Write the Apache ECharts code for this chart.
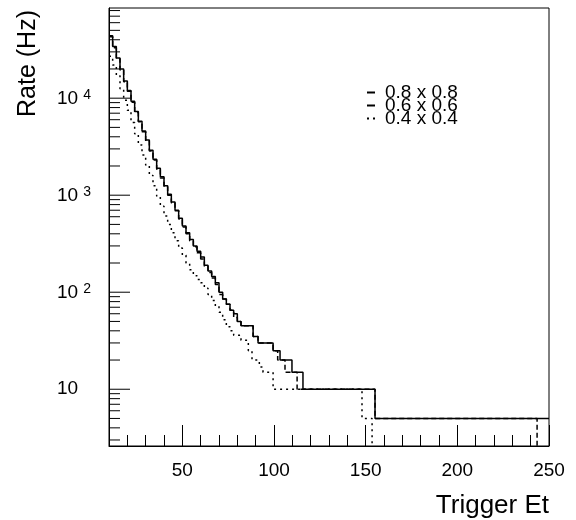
<!DOCTYPE html>
<html>
<head>
<meta charset="utf-8">
<script src="https://cdn.jsdelivr.net/npm/echarts@6/dist/echarts.min.js"></script>
<style>html,body{margin:0;padding:0;background:#fff;}#c{width:576px;height:520px;}</style>
</head>
<body>
<div id="c"></div>
<script>
// ---- data ----
const seriesNames = ['0.8 x 0.8', '0.6 x 0.6', '0.4 x 0.4'];

const edges08 = [10,12,14,16,18,20,22,24,26,28,30,32,34,36,38,40,42,44,46,48,50,52,54,56,58,60,62,64,66,68,70,72,74,76,78,80,82,88.6,91.3,99.5,103.3,109.8,115.8,155.1,250];
const rates08 = [44000,34000,26000,20000,15000,12000,9300,7300,5800,4600,3700,2900,2350,1900,1550,1250,1020,850,700,580,480,410,350,300,265,230,190,165,145,125,100,85,75,65,60,50,45,35,30,25,20,15,10,5];

const edges06 = [10,12,14,16,18,20,22,24,26,28,30,32,34,36,38,40,42,44,46,48,50,52,54,56,58,60,62,64,66,68,70,72,74,76,78,80,82,88.6,91.3,99.5,102,106,112.6,155.1,243.5,250];
const rates06 = [43000,33000,25500,19500,14800,11800,9100,7100,5700,4500,3600,2850,2300,1850,1500,1220,1000,830,690,570,470,400,340,295,255,220,185,160,140,120,95,85,75,65,55,50,45,35,30,25,20,15,10,5,1];

const edges04 = [10,12,14,16,18,20,22,24,26,28,30,32,34,36,38,40,42,44,46,48,50,52,54,56,58,60,62,64,66,68,70,72,74,76,78,82,86,88,92,94,99.5,148,153.5,250];
const rates04 = [27000,22000,17000,12500,9500,7500,5600,4300,3300,2600,2050,1600,1250,980,770,610,500,410,340,285,240,200,170,148,135,125,110,95,82,72,62,52,44,40,36,32,25,20,17,15,10,5,1];

const xTickLabels = [50,100,150,200,250];
const xMajorTicks = [50,100,150,200,250];
const xMinorTicks = [20,30,40,60,70,80,90,110,120,130,140,160,170,180,190,210,220,230,240];
const yMajorTicks = [10,100,1000,10000];
const yMinorTicks = [3,4,5,6,7,8,9,20,30,40,50,60,70,80,90,200,300,400,500,600,700,800,900,2000,3000,4000,5000,6000,7000,8000,9000,20000,30000,40000,50000,60000,70000,80000];

const xMin = 10, xMax = 250, yMin = 2.6, yMax = 85000;

// ---- build ----
const FONT = '"Liberation Sans", Arial, Helvetica, sans-serif';
function histPoints(edges, rates) {
  const pts = rates.map((r, i) => [edges[i], r]);
  pts.push([edges[edges.length - 1], rates[rates.length - 1]]);
  return pts;
}
function stepSeries(name, edges, rates, type) {
  return {
    name: name, type: 'line', step: 'end', symbol: 'none', showSymbol: false,
    data: histPoints(edges, rates), clip: true, animation: false,
    color: '#000', itemStyle: { color: '#000' },
    lineStyle: { color: '#000', width: 1.5, type: type }
  };
}
function tickSeries(values, len) {
  return {
    type: 'custom', silent: true, animation: false, clip: false,
    data: values.map(v => [xMin, v]),
    renderItem: function (params, api) {
      const p = api.coord([api.value(0), api.value(1)]);
      return { type: 'line', shape: { x1: p[0], y1: p[1], x2: p[0] + len, y2: p[1] },
               style: { stroke: '#000', lineWidth: 1 } };
    }
  };
}

const chart = echarts.init(document.getElementById('c'), null, { renderer: 'canvas' });
chart.setOption({
  animation: false,
  backgroundColor: '#fff',
  color: ['#000'],
  textStyle: { fontFamily: FONT },
  grid: { left: 109, right: 27, top: 8, bottom: 74, show: true, borderColor: '#000', borderWidth: 1, containLabel: false },
  legend: {
    data: [
      { name: seriesNames[0], icon: 'rect' },
      { name: seriesNames[1], icon: 'rect' },
      { name: seriesNames[2], icon: 'path://M0,0h2v2h-2zM6,0h2v2h-2z' }
    ],
    orient: 'vertical', left: 367, top: 83, padding: 0,
    itemWidth: 8, itemHeight: 2, itemGap: -6, selectedMode: false,
    itemStyle: { color: '#000' },
    textStyle: { fontSize: 19, color: '#000', fontFamily: FONT, padding: [0, 0, 0, 5] }
  },
  xAxis: [{
    type: 'value', min: xMin, max: xMax, position: 'bottom',
    axisLine: { show: true, onZero: false, lineStyle: { color: '#000', width: 1 } },
    axisTick: { show: true, inside: true, length: 21, customValues: xMajorTicks, lineStyle: { color: '#000', width: 1 } },
    axisLabel: { customValues: xTickLabels, fontSize: 19, color: '#000', margin: 15, fontFamily: FONT },
    splitLine: { show: false },
    name: 'Trigger Et', nameLocation: 'end', nameGap: 0,
    nameTextStyle: { align: 'right', verticalAlign: 'top', padding: [47, 0, 0, 0], fontSize: 26, color: '#000', fontFamily: FONT }
  }, {
    type: 'value', min: xMin, max: xMax, position: 'bottom',
    axisLine: { show: false },
    axisTick: { show: true, inside: true, length: 11, customValues: xMinorTicks, lineStyle: { color: '#000', width: 1 } },
    axisLabel: { show: false }, splitLine: { show: false }
  }],
  yAxis: {
    type: 'log', logBase: 10, min: yMin, max: yMax,
    axisLine: { show: true, lineStyle: { color: '#000', width: 1 } },
    axisTick: { show: false }, splitLine: { show: false }, minorTick: { show: false },
    axisLabel: {
      align: 'left', margin: 52, color: '#000',
      showMinLabel: true, showMaxLabel: true,
      formatter: function (v) {
        const l = Math.log10(v), e = Math.round(l);
        if (Math.abs(l - e) > 1e-6) return '';
        return e === 1 ? '{t|10}' : '{b|10}{s|' + e + '}';
      },
      rich: {
        t: { fontSize: 19, lineHeight: 20, color: '#000', fontFamily: FONT },
        b: { fontSize: 19, lineHeight: 20, padding: [4, 0, 0, 0], verticalAlign: 'bottom', color: '#000', fontFamily: FONT },
        s: { fontSize: 14, lineHeight: 8, padding: [0, 0, 0, 5], verticalAlign: 'top', color: '#000', fontFamily: FONT }
      }
    }
  },
  graphic: [{
    type: 'text', x: 28, y: 10, rotation: Math.PI / 2,
    style: { text: 'Rate (Hz)', font: '25px ' + FONT, fill: '#000', align: 'right', verticalAlign: 'middle' }
  }],
  series: [
    stepSeries(seriesNames[0], edges08, rates08, 'solid'),
    stepSeries(seriesNames[1], edges06, rates06, [5, 3]),
    stepSeries(seriesNames[2], edges04, rates04, [2, 4]),
    tickSeries(yMajorTicks, 21),
    tickSeries(yMinorTicks, 11)
  ]
});
</script>
</body>
</html>
